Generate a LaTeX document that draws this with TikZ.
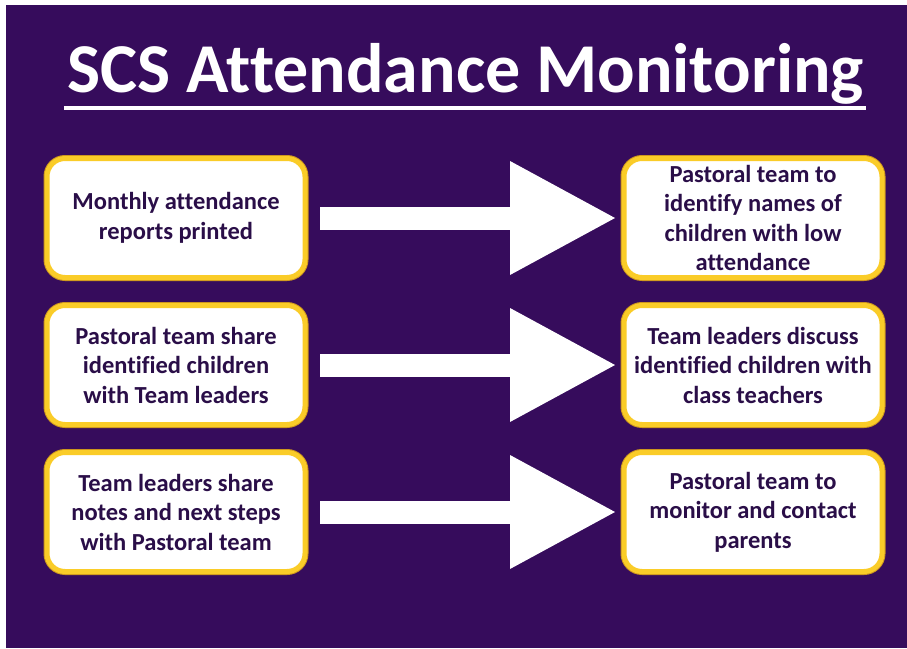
\documentclass[tikz,border=0pt]{standalone}
\usepackage{fontspec}
\setmainfont[Ligatures=NoCommon]{Carlito}
\usetikzlibrary{arrows.meta}
\definecolor{bgpurple}{RGB}{54,12,92}
\definecolor{inkpurple}{RGB}{42,14,72}
\definecolor{gold}{RGB}{250,204,40}
\definecolor{goldedge}{RGB}{205,150,30}
\begin{document}
\begin{tikzpicture}[x=1pt,y=-1pt,
  stepbox/.style={draw=gold, line width=5pt, fill=white, rounded corners=18pt,
    minimum width=258pt, minimum height=119pt, inner sep=2pt, align=center,
    text=inkpurple, font=\fontsize{24.5}{29.5}\selectfont\bfseries,
    preaction={draw=goldedge, line width=7pt}},
  flow/.style={draw=white, line width=23pt,
    -{Triangle[length=105pt,width=114pt,line width=0pt]}},
  heading/.style={text=white, inner sep=0pt, anchor=base,
    font=\fontsize{70}{80}\selectfont\bfseries}]

% page and background panel
\useasboundingbox (0,0) rectangle (907,648);
\fill[white] (0,0) rectangle (907,648);
\fill[bgpurple] (6,5) rectangle (907,648);

% heading with its rule
\node[heading] (title) at (465.5,92) {SCS Attendance Monitoring};
\draw[white, line width=4pt]
  ([shift={(-3pt,-15.5pt)}]title.base west) -- ([shift={(2pt,-15.5pt)}]title.base east);

% left column
\node[stepbox] (l1) at (176,218) {Monthly attendance\\reports printed};
\node[stepbox] (l2) at (176,365) {Pastoral team share\\identified children\\with Team leaders};
\node[stepbox] (l3) at (176,512) {Team leaders share\\notes and next steps\\with Pastoral team};

% right column
\node[stepbox] (r1) at (753,218) {Pastoral team to\\identify names of\\children with low\\attendance};
\node[stepbox] (r2) at (753,365) {Team leaders discuss\\identified children with\\class teachers};
\node[stepbox] (r3) at (753,512) {Pastoral team to\\monitor and contact\\parents};

% block arrows between the columns
\draw[flow] ([xshift=12.5pt]l1.east) -- ([xshift=-6.5pt]r1.west);
\draw[flow] ([xshift=12.5pt]l2.east) -- ([xshift=-6.5pt]r2.west);
\draw[flow] ([xshift=12.5pt]l3.east) -- ([xshift=-6.5pt]r3.west);
\end{tikzpicture}
\end{document}
